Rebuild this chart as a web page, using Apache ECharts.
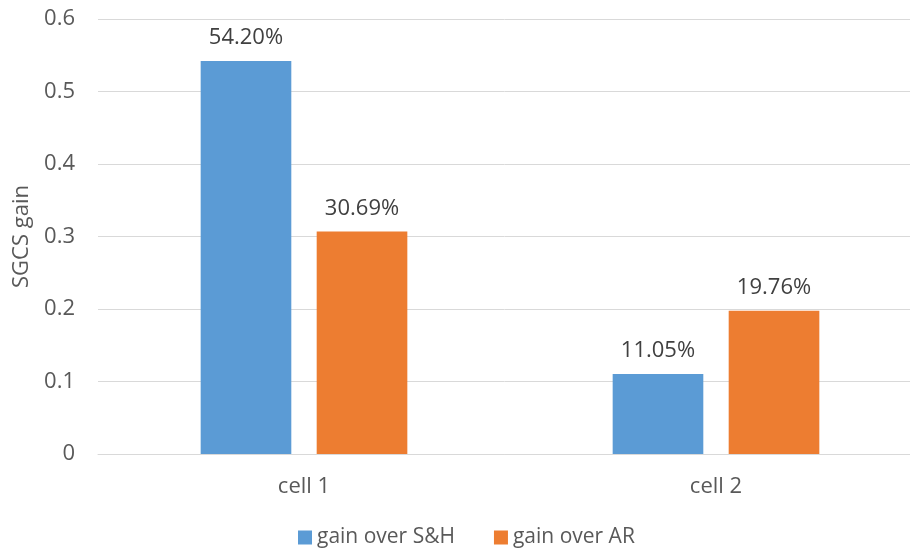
<!DOCTYPE html>
<html>
<head>
<meta charset="utf-8">
<script src="https://cdn.jsdelivr.net/npm/echarts@6/dist/echarts.min.js"></script>
<style>
  html, body { margin: 0; padding: 0; background: #fff; overflow: hidden; }
  #chart { width: 910px; height: 554px; }
</style>
</head>
<body>
<div id="chart"></div>
<script>
// Categories and series values
const categories = ['cell 1', 'cell 2'];
const gainOverSH = [0.542, 0.1105];
const gainOverAR = [0.3069, 0.1976];
const yTicks = [0, 0.1, 0.2, 0.3, 0.4, 0.5, 0.6];

const FONT = '"Open Sans", "Noto Sans", sans-serif';
const chart = echarts.init(document.getElementById('chart'), null, { renderer: 'canvas' });

const pctLabel = {
  show: true,
  position: 'top',
  distance: 12,
  fontFamily: FONT,
  fontSize: 22,
  color: '#404040',
  formatter: p => (p.value * 100).toFixed(2) + '%'
};

chart.setOption({
  animation: false,
  textStyle: { fontFamily: FONT },
  // plot area runs slightly past the right edge of the canvas
  grid: {
    left: 98, width: 824, top: 19, bottom: 100,
    containLabel: false, outerBoundsMode: 'none'
  },
  legend: {
    top: 522,
    left: 293,
    itemWidth: 14,
    itemHeight: 14,
    itemGap: 39,
    icon: 'rect',
    textStyle: { fontFamily: FONT, fontSize: 21, color: '#595959' },
    data: ['gain over S&H', 'gain over AR']
  },
  xAxis: {
    type: 'category',
    data: categories,
    axisLine: { show: true, lineStyle: { color: '#D9D9D9', width: 1 } },
    axisTick: { show: false },
    axisLabel: { fontFamily: FONT, fontSize: 22, color: '#595959', margin: 22 }
  },
  yAxis: {
    type: 'value',
    min: yTicks[0],
    max: yTicks[yTicks.length - 1],
    interval: 0.1,
    name: 'SGCS gain',
    nameLocation: 'middle',
    nameGap: 63,
    nameRotate: 90,
    nameTextStyle: { fontFamily: FONT, fontSize: 22, color: '#595959' },
    axisLine: { show: false },
    axisTick: { show: false },
    axisLabel: {
      fontFamily: FONT, fontSize: 22, color: '#595959', margin: 23,
      formatter: v => (v === 0 ? '0' : v.toFixed(1))
    },
    splitLine: { lineStyle: { color: '#D9D9D9', width: 1 } }
  },
  series: [
    {
      name: 'gain over S&H',
      type: 'bar',
      data: gainOverSH,
      barWidth: '22%',
      barGap: '28%',
      itemStyle: { color: '#5B9BD5' },
      label: pctLabel
    },
    {
      name: 'gain over AR',
      type: 'bar',
      data: gainOverAR,
      barWidth: '22%',
      itemStyle: { color: '#ED7D31' },
      label: pctLabel
    }
  ]
});
</script>
</body>
</html>
